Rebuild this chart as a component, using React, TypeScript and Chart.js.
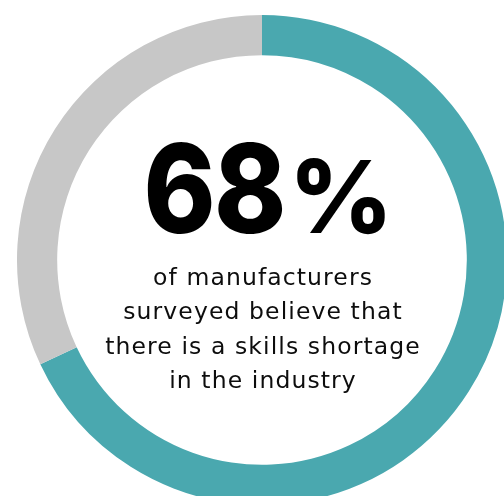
import React, { useEffect, useRef } from "react";
import { Chart, registerables } from "chart.js";

Chart.register(...registerables);

const labels = ["Believe there is a skills shortage", "Other"];
const values = [68, 32];
const colors = ["#4AA8AF", "#C7C7C7"];
const headlineNumber = "68";
const headlineUnit = "%";
const bodyLines = [
  "of manufacturers",
  "surveyed believe that",
  "there is a skills shortage",
  "in the industry",
];

const centerText = {
  id: "centerText",
  afterDraw(chart: any) {
    const { ctx, chartArea } = chart;
    const cx = (chartArea.left + chartArea.right) / 2;
    const cy = (chartArea.top + chartArea.bottom) / 2;
    const base = cy - 27;
    ctx.save();
    ctx.textAlign = "left";
    ctx.textBaseline = "alphabetic";
    ctx.fillStyle = "#000";
    // number
    ctx.font = "800 124px Inter";
    (ctx as any).letterSpacing = "-2px";
    const m1 = ctx.measureText(headlineNumber);
    ctx.save();
    ctx.translate(cx - 115, base);
    ctx.scale(0.88, 1);
    ctx.fillText(headlineNumber, m1.actualBoundingBoxLeft, 0);
    ctx.restore();
    // percent sign
    ctx.font = "800 101px Inter";
    (ctx as any).letterSpacing = "0px";
    const m2 = ctx.measureText(headlineUnit);
    ctx.fillText(headlineUnit, cx + 35 + m2.actualBoundingBoxLeft, base);
    // body
    ctx.textAlign = "center";
    ctx.font = "400 23.5px 'DejaVu Sans'";
    (ctx as any).letterSpacing = "1.1px";
    ctx.fillStyle = "#0d0d0d";
    const offs = [25, 59, 94, 128];
    bodyLines.forEach((l, i) => ctx.fillText(l, cx + 1, cy + offs[i]));
    ctx.restore();
  },
};

export default function App() {
  const ref = useRef<HTMLCanvasElement>(null);
  useEffect(() => {
    if (!ref.current) return;
    const chart = new Chart(ref.current, {
      type: "doughnut",
      data: {
        labels,
        datasets: [
          {
            data: values,
            backgroundColor: colors,
            borderWidth: 0,
          },
        ],
      },
      options: {
        animation: false,
        responsive: true,
        maintainAspectRatio: false,
        cutout: "83.6%",
        layout: { padding: 0 },
        plugins: { legend: { display: false }, tooltip: { enabled: false } },
      },
      plugins: [centerText],
    });
    return () => chart.destroy();
  }, []);
  return (
    <div style={{ position: "absolute", left: 17, top: 15, width: 490, height: 490 }}>
      <canvas ref={ref} />
    </div>
  );
}
